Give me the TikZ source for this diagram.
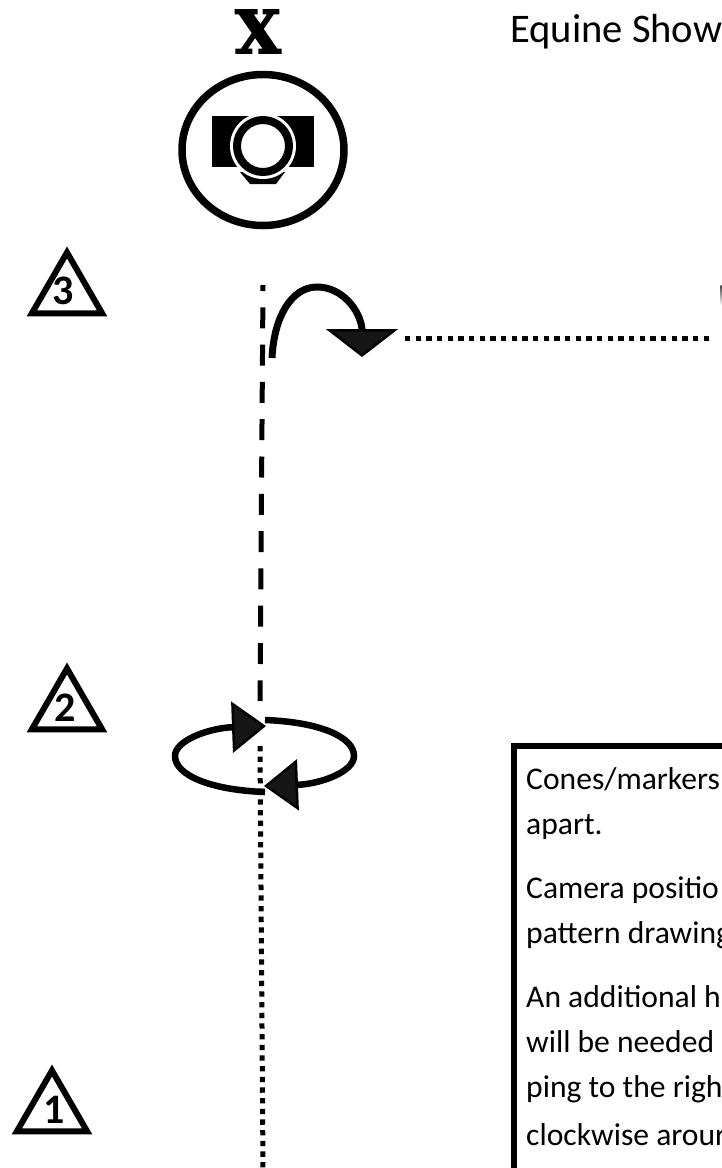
\documentclass[tikz,border=0pt]{standalone}
\usepackage{fontspec}
\usepackage{xcolor}
\setmainfont{Carlito}
\newfontfamily\crossfont[BoldFont=* Bold,BoldFeatures={FakeBold=3}]{DejaVu Serif}
\usetikzlibrary{shapes,arrows.meta,positioning,calc}
\definecolor{tipfill}{HTML}{161616}

\begin{document}
\begin{tikzpicture}[x=1pt, y=-1pt,
    cone/.style={regular polygon, regular polygon sides=3, draw, line width=6pt, minimum size=81pt, inner sep=0pt},
    conedigit/.style={inner sep=0pt, font=\fontsize{42}{42}\selectfont\bfseries},
    notetext/.style={anchor=base west, inner sep=0pt, font=\fontsize{31.6}{32}\selectfont},
    notebox/.style={rectangle, draw, line width=6pt, outer sep=0pt, anchor=north west, minimum width=400pt, minimum height=600pt},
    dashline/.style={line width=5pt, dash pattern=on 21pt off 16.3pt, dash phase=15pt},
    dotline/.style={line width=5pt, dash pattern=on 5.3pt off 5.37pt},
    bigtip/.style={line width=7pt, -{Triangle[width=72pt, length=28pt, line width=2.5pt, fill=tipfill]}},
    turntip/.style={line width=6.5pt, -{Triangle[width=51pt, length=34pt, line width=2.5pt, fill=tipfill]}}]

    \clip (0,0) rectangle (722,1168);
    \useasboundingbox (0,0) rectangle (722,1168);

    \node[anchor=base, inner sep=0pt, font=\crossfont\fontsize{59}{59}\selectfont\bfseries] (cross) at (258,53) {X};
    \node[anchor=base west, inner sep=0pt, font=\fontsize{40.6}{41}\selectfont] (title) at (510,42) {Equine Show};

    % camera
    \node[ellipse, draw, line width=7.5pt, minimum width=162pt, minimum height=151pt, inner sep=0pt] (camring) at (263,150) {};
    \fill (240,172) -- (250,184) -- (276,184) -- (285,172) -- cycle;
    \node[rectangle, fill=black, minimum width=102pt, minimum height=51pt, inner sep=0pt] (cambody) at (263,141.5) {};
    \node[circle, fill=white, minimum size=66pt, inner sep=0pt] (camhalo) at (263,146) {};
    \node[circle, draw, line width=8pt, minimum size=52pt, inner sep=0pt] (camlens) at (263,146) {};

    % markers
    \node[cone] (cone3) at (67,293) {};
    \node[cone] (cone2) at (67,709) {};
    \node[cone] (cone1) at (52,1111) {};
    \node[conedigit] (digit3) at (63,291) {3};
    \node[conedigit] (digit2) at (65,708) {2};
    \node[conedigit] (digit1) at (54,1110) {1};

    % track
    \coordinate (start3) at (263,285);
    \coordinate (stop2) at (260,701);
    \coordinate (start2) at (260,746);
    \coordinate (stop1) at (263,1168);
    \coordinate (exit3) at (405,338);
    \coordinate (exit4) at (709,338);
    \draw[dashline] (start3) -- (stop2);
    \draw[dotline] (start2) -- (stop1);
    \draw[dotline] (exit3) -- (exit4);
    \shade[top color=black!75, bottom color=white] (720.6,285) rectangle (722,305);

    % half turn
    \coordinate (turnfrom) at (272,358);
    \coordinate (turnto) at (362,357);
    \draw[bigtip] (turnfrom) .. controls (274,316) and (292,287) .. (317,287) .. controls (342,287) and (360,310) .. (362,329) -- (turnto);

    % full turn
    \coordinate (spinA) at (265,720);
    \coordinate (spinB) at (264,786);
    \coordinate (spinC) at (265,792);
    \coordinate (spinD) at (266,726);
    \draw[turntip] (spinA) .. controls (320,722) and (354,737) .. (354,756) .. controls (354,772) and (320,784) .. (spinB);
    \draw[turntip] (spinC) .. controls (210,790) and (175,775) .. (175,756) .. controls (175,740) and (210,728) .. (spinD);

    % notes
    \node[notebox] (notes) at (514,746) {};
    \node[notetext] (note1) at (526,789) {Cones/markers};
    \node[notetext] (note2) at (526,834) {apart.};
    \node[notetext] (note3) at (526,898) {Camera positio};
    \node[notetext] (note4) at (526,943) {pattern drawing};
    \node[notetext] (note5) at (526,1007) {An additional h};
    \node[notetext] (note6) at (526,1052) {will be needed};
    \node[notetext] (note7) at (526,1097) {ping to the righ};
    \node[notetext] (note8) at (526,1145) {clockwise arour};
\end{tikzpicture}
\end{document}
